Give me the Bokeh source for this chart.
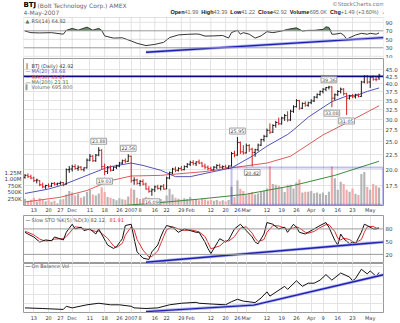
import pandas as pd
import numpy as np
from bokeh.plotting import figure
from bokeh.layouts import column
from bokeh.models import (ColumnDataSource, Range1d, LinearAxis, LinearScale, FixedTicker,
                          Label, Span, BoxAnnotation, Grid, NumeralTickFormatter)
from bokeh.transform import dodge
from bokeh.embed import file_html
from bokeh.resources import INLINE

# ---------------- data ----------------
holidays = ["2006-11-23", "2006-12-25", "2007-01-01", "2007-01-02",
            "2007-01-15", "2007-02-19", "2007-04-06"]
dates = [d for d in pd.bdate_range("2006-11-08", "2007-05-04")
         if d.strftime("%Y-%m-%d") not in holidays]
date_pos = {d.strftime("%Y-%m-%d"): i for i, d in enumerate(dates)}

opens = [18.7, 19.0, 18.8, 18.6, 18.2, 18.2, 17.6, 17.3, 17.5, 17.4, 17.8, 17.7, 17.8, 17.9,
         17.7, 19.9, 20.0, 20.4, 20.1, 20.3, 19.9, 20.2, 21.5, 22.2, 21.4, 22.4, 23.3, 20.4,
         19.6, 20.2, 19.8, 20.3, 20.5, 21.0, 21.4, 21.3, 22.2, 18.2, 18.3, 17.8, 18.1, 17.7,
         17.0, 16.7, 16.9, 17.3, 17.1, 17.4, 17.0, 18.6, 19.4, 20.0, 19.8, 20.1, 19.9, 20.4,
         20.8, 21.1, 20.9, 21.2, 21.0, 20.5, 20.3, 20.1, 19.9, 20.3, 20.6, 20.3, 20.4, 20.2,
         20.5, 22.7, 22.4, 24.8, 23.0, 22.8, 24.2, 23.5, 22.9, 23.4, 24.3, 25.4, 26.1, 27.4,
         27.0, 28.5, 29.2, 28.9, 30.3, 30.9, 29.8, 32.0, 33.2, 34.9, 32.8, 34.1, 33.6, 34.3,
         34.8, 35.9, 36.7, 37.6, 38.3, 38.8, 39.0, 35.6, 36.6, 37.6, 38.3, 36.9, 35.6, 36.2,
         36.0, 36.5, 36.1, 40.6, 42.5, 40.6, 42.2, 41.5, 41.99]
highs = [19.2, 19.3, 19.1, 18.8, 18.5, 18.3, 17.9, 17.6, 17.8, 17.9, 18.0, 17.9, 18.1, 18.0,
         20.1, 20.5, 20.7, 20.8, 20.6, 20.5, 20.3, 21.8, 22.6, 22.4, 22.6, 23.88, 23.5, 20.9,
         20.5, 20.6, 20.4, 20.7, 21.2, 21.6, 21.8, 22.56, 22.3, 18.7, 18.5, 18.3, 18.4, 17.9,
         17.4, 17.1, 17.5, 17.6, 17.5, 17.7, 18.8, 19.6, 20.2, 20.4, 20.3, 20.5, 20.6, 21.0,
         21.4, 21.5, 21.3, 21.6, 21.2, 20.9, 20.6, 20.4, 20.5, 20.8, 20.9, 20.6, 20.7, 20.6,
         23.0, 23.2, 25.95, 25.0, 24.3, 24.6, 24.5, 23.8, 23.6, 24.6, 25.6, 26.4, 27.8, 29.0,
         28.8, 29.6, 30.4, 30.6, 31.3, 32.0, 32.4, 33.6, 35.3, 35.1, 34.4, 34.7, 34.6, 35.3,
         36.2, 37.0, 37.9, 38.6, 39.0, 39.36, 39.2, 37.0, 38.0, 38.8, 38.6, 37.2, 36.6, 36.8,
         36.9, 37.0, 41.0, 42.9, 43.0, 42.6, 42.8, 42.3, 43.39]
lows = [18.5, 18.6, 18.4, 18.0, 17.8, 17.4, 17.1, 17.0, 17.2, 17.3, 17.5, 17.5, 17.6, 17.4,
        17.6, 19.4, 19.6, 19.9, 19.7, 19.8, 19.6, 20.1, 21.3, 21.2, 21.2, 22.2, 20.0, 19.03,
        19.2, 19.6, 19.7, 20.0, 20.3, 20.8, 21.0, 21.2, 17.9, 17.6, 17.6, 17.4, 17.5, 16.9,
        16.5, 16.09, 16.6, 16.9, 16.8, 16.9, 17.0, 18.4, 19.2, 19.5, 19.6, 19.7, 19.8, 20.2,
        20.5, 20.6, 20.5, 20.8, 20.3, 20.0, 19.8, 19.7, 19.8, 20.0, 20.1, 20.0, 20.1, 20.0,
        20.4, 22.0, 22.3, 22.6, 22.5, 22.7, 23.0, 20.42, 22.1, 23.1, 24.1, 25.0, 25.9, 26.6,
        26.8, 28.0, 28.6, 28.7, 29.6, 29.4, 29.6, 31.6, 33.0, 32.4, 32.6, 33.2, 33.2, 33.9,
        34.5, 35.5, 36.3, 37.0, 37.7, 38.2, 33.08, 35.0, 36.2, 37.0, 36.4, 31.05, 35.2, 35.6,
        35.5, 35.8, 36.0, 40.2, 40.0, 38.7, 41.0, 40.8, 41.22]
closes = [19.0, 18.8, 18.6, 18.2, 18.3, 17.6, 17.3, 17.5, 17.4, 17.8, 17.7, 17.8, 17.9, 17.6,
          19.9, 20.0, 20.4, 20.1, 20.3, 19.9, 20.2, 21.5, 22.2, 21.4, 22.4, 23.3, 20.4, 19.6,
          20.2, 19.8, 20.3, 20.5, 21.0, 21.4, 21.3, 22.2, 18.2, 18.3, 17.8, 18.1, 17.7, 17.0,
          16.7, 16.9, 17.3, 17.1, 17.4, 17.0, 18.6, 19.4, 20.0, 19.8, 20.1, 19.9, 20.4, 20.8,
          21.1, 20.9, 21.2, 21.0, 20.5, 20.3, 20.1, 19.9, 20.3, 20.6, 20.3, 20.4, 20.2, 20.5,
          22.7, 22.4, 24.8, 23.0, 22.8, 24.2, 23.5, 22.9, 23.4, 24.3, 25.4, 26.1, 27.4, 27.0,
          28.5, 29.2, 28.9, 30.3, 30.9, 29.8, 32.0, 33.2, 34.9, 32.8, 34.1, 33.6, 34.3, 34.8,
          35.9, 36.7, 37.6, 38.3, 38.8, 39.0, 35.6, 36.6, 37.6, 38.3, 36.9, 35.6, 36.2, 36.0,
          36.5, 36.1, 40.6, 42.5, 40.6, 42.2, 41.5, 41.43, 42.92]
volume_k = [260, 180, 220, 300, 150, 280, 240, 160, 200, 140, 180, 90, 230, 250,
            420, 560, 500, 380, 450, 300, 350, 520, 600, 420, 380, 460, 700, 520,
            330, 300, 250, 200, 280, 240, 220, 350, 650, 600, 300, 250, 280, 330,
            300, 280, 220, 200, 250, 180, 380, 640, 420, 300, 260, 230, 280, 250,
            330, 210, 240, 200, 270, 230, 190, 220, 180, 210, 160, 200, 150, 210,
            720, 330, 960, 640, 560, 420, 480, 520, 420, 460, 530, 570, 650, 1500,
            830, 800, 760, 700, 520, 800, 800, 650, 880, 1000, 500, 530, 530, 560,
            470, 500, 450, 500, 400, 530, 1500, 1050, 600, 910, 830, 600, 530, 650,
            450, 400, 1210, 1290, 710, 600, 830, 760, 695]

ma20_idx = [0, 8, 13, 21, 28, 36, 40, 46, 51, 56, 61, 70, 77, 82, 89, 91, 96, 100, 104, 109, 113, 116, 120]
ma20_val = [16.4, 17.0, 17.6, 19.0, 20.3, 21.0, 20.6, 19.8, 18.8, 18.8, 19.3, 20.2, 22.2, 24.1,
            26.5, 27.5, 30.5, 32.5, 34.6, 36.2, 36.6, 37.6, 38.68]
ma50_idx = [0, 12, 21, 29, 36, 46, 56, 61, 70, 82, 90, 101, 109, 120]
ma50_val = [15.3, 15.9, 16.8, 18.2, 18.9, 19.0, 19.4, 19.6, 20.2, 21.0, 22.2, 26.4, 29.1, 33.47]
ma200_idx = [30, 42, 60, 75, 91, 105, 120]
ma200_val = [14.8, 15.1, 15.7, 16.3, 17.5, 19.0, 21.31]

rsi_idx = [0, 2, 5, 9, 13, 14, 16, 18, 21, 23, 25, 26, 27, 30, 33, 36, 38, 41, 44, 47, 49, 52,
           55, 58, 59, 61, 64, 67, 69, 70, 72, 73, 74, 76, 78, 80, 82, 84, 87, 89, 92, 94, 96,
           98, 101, 102, 103, 104, 105, 107, 108, 109, 112, 114, 116, 117, 119, 120]
rsi_val = [69.5, 65.6, 65, 65.6, 62, 71, 75.6, 71.5, 78.6, 71.5, 75.6, 71, 58, 52.8, 53.5, 46,
           40.5, 35.2, 38, 42.8, 54, 60.3, 61.7, 62.5, 62, 57.6, 58, 59, 53, 66, 71, 62, 65.6,
           62, 52.8, 58, 68, 65.6, 69.5, 73.3, 77, 69.5, 71, 71, 73.3, 79.3, 78, 62, 62, 64.3,
           60, 50.5, 60, 64, 62, 64, 62, 64.92]

sto_idx = [0, 1, 3, 5, 7, 9, 10, 13, 14, 16, 17, 19, 20, 22, 24, 25, 28, 30, 31, 33, 34, 36, 37,
           38, 40, 42, 43, 45, 46, 47, 48, 50, 52, 54, 56, 58, 59, 61, 62, 63, 66, 68, 69, 71,
           73, 75, 77, 78, 79, 81, 82, 84, 86, 88, 89, 91, 92, 93, 95, 96, 98, 100, 102, 103,
           105, 106, 107, 108, 110, 111, 112, 114, 115, 116, 118, 119, 120]
sto_k = [72, 68, 61, 49, 54, 52, 61, 54, 72, 91, 80, 84, 76, 80, 68, 80, 42, 34, 38, 57, 88, 91,
         57, 26, 11, 8, 26, 42, 61, 77, 88, 84, 72, 80, 76, 72, 72, 49, 34, 22, 57, 49, 54, 80,
         91, 76, 61, 49, 45, 68, 95, 91, 80, 84, 72, 91, 84, 72, 68, 72, 80, 88, 95, 84, 53, 42,
         68, 57, 45, 49, 45, 72, 91, 88, 80, 80, 82.12]
sto_d = [74, 72, 66, 56, 51, 53, 56, 57, 62, 78, 85, 83, 80, 78, 74, 75, 58, 40, 36, 46, 65, 85,
         78, 55, 30, 14, 15, 28, 45, 62, 78, 85, 80, 76, 78, 75, 73, 62, 48, 33, 40, 52, 51, 62,
         82, 85, 70, 58, 50, 55, 72, 88, 87, 82, 79, 82, 85, 82, 72, 70, 74, 83, 90, 90, 74, 58,
         54, 58, 55, 50, 47, 55, 72, 85, 86, 82, 81.91]

obv_idx = [0, 6, 13, 14, 16, 21, 25, 29, 32, 36, 37, 41, 45, 49, 53, 58, 59, 64, 68, 70, 72, 74,
           78, 80, 82, 83, 88, 89, 92, 94, 96, 98, 100, 102, 104, 107, 110, 111, 112, 114, 116,
           117, 119, 120]
obv_m = [1.25, 1.08, 0.83, 1.68, 1.25, 2.08, 2.5, 2.08, 2.08, 1.68, 1.25, 1.08, 1.25, 2.08, 2.5,
         2.75, 2.5, 2.25, 2.08, 2.93, 3.58, 3.08, 2.68, 3.93, 5.58, 4.43, 7.08, 6.25, 8.58, 7.08,
         7.93, 7.93, 8.75, 10.25, 8.75, 10.68, 9.58, 8.58, 9.18, 11.68, 10.43, 11.25, 9.75, 10.83]

# user-drawn annotations
rsi_trend_idx, rsi_trend_val = [41, 121.5], [19.6, 54.0]
sto_trend_idx, sto_trend_val = [41, 121.5], [1.5, 49.0]
obv_trend_idx, obv_trend_val = [41, 77.5, 121.5], [0.25, 2.0, 10.2]
resist_level = 42.5
box_left_idx, box_right_idx, box_top_price, box_bottom_price = 70, 121.3, 20.25, 14.95

ann_idx = [25, 35, 27, 43, 72, 77, 103, 104, 109]
ann_kind = ["H", "H", "L", "L", "H", "L", "H", "L", "L"]

quote_keys = ["Open", "High", "Low", "Close", "Volume", "Chg"]
quote_vals = ["41.99", "43.39", "41.22", "42.92", "695.0K", "+1.49 (+3.60%)"]

tick_dates = ["2006-11-13", "2006-11-20", "2006-11-27", "2006-12-01", "2006-12-11", "2006-12-18",
              "2006-12-26", "2007-01-03", "2007-01-08", "2007-01-16", "2007-01-22", "2007-01-29",
              "2007-02-01", "2007-02-12", "2007-02-20", "2007-02-26", "2007-03-01", "2007-03-12",
              "2007-03-19", "2007-03-26", "2007-04-02", "2007-04-09", "2007-04-16", "2007-04-23",
              "2007-05-01"]
tick_labels = ["13", "20", "27", "Dec", "11", "18", "26", "2007", "8", "16", "22", "29", "Feb",
               "12", "20", "26", "Mar", "12", "19", "26", "Apr", "9", "16", "23", "May"]
price_ticks = [17.5, 20.0, 22.5, 25.0, 27.5, 30.0, 32.5, 35.0, 37.5, 40.0, 42.5, 45.0]
vol_ticks = [250, 500, 750, 1000, 1250]
vol_tick_labels = ["250K", "500K", "750K", "1.00M", "1.25M"]
rsi_ticks = [10, 30, 50, 70, 90]
rsi_lo, rsi_hi = 4.8, 101.3

# ---------------- styling / layout ----------------
FONT = "DejaVu Sans"
HFONT = "Liberation Sans"
GRID = "#e3e3e3"
W = 400
tick_idx = [date_pos[d] for d in tick_dates]
n = len(dates)
xr = Range1d(-0.5, n + 0.5)

up = [closes[0] >= opens[0]] + [closes[i] >= closes[i - 1] for i in range(1, n)]
src = ColumnDataSource(dict(
    x=list(range(n)), open=opens, high=highs, low=lows, close=closes, vol=volume_k,
    pcolor=["#1a1a1a" if u else "#d42020" for u in up],
    vcolor=["#b4b4b4" if u else "#f3a9a9" for u in up],
))


def make_fig(height, y_range, bottom=0, top=0, xgrid=True, **kw):
    p = figure(width=W, height=height, x_range=xr, y_range=y_range,
               toolbar_location=None, output_backend="svg",
               min_border_left=23, min_border_right=15, min_border_top=top,
               min_border_bottom=bottom, **kw)
    p.outline_line_color = "#9a9a9a"
    p.background_fill_color = "white"
    p.border_fill_color = "white"
    p.grid.visible = False
    if xgrid:
        p.add_layout(Grid(dimension=0, ticker=FixedTicker(ticks=tick_idx), grid_line_color=GRID))
    return p


def style_axis(ax, size="5.5px"):
    ax.major_label_text_font = FONT
    ax.major_label_text_font_size = size
    ax.major_label_text_color = "#3a3a3a"
    ax.major_tick_line_color = None
    ax.minor_tick_line_color = None
    ax.axis_line_color = None
    ax.major_tick_out = 0
    ax.major_tick_in = 0
    ax.major_label_standoff = 2


def txt(p, x, y, text, size="5px", color="#333333", align="left", bold=False, font=FONT, **kw):
    p.add_layout(Label(x=x, y=y, x_units="screen", y_units="screen", text=text,
                       text_font=font, text_font_size=size, text_color=color,
                       text_align=align, text_baseline="middle",
                       text_font_style="bold" if bold else "normal", **kw))


# approximate Liberation Sans advance widths (em) for laying out the mixed bold/normal header
_W_REG = {"0": .556, "1": .556, "2": .556, "3": .556, "4": .556, "5": .556, "6": .556,
          "7": .556, "8": .556, "9": .556, ".": .278, " ": .278, "(": .333, ")": .333,
          "+": .584, "%": .889, "K": .667}
_W_BOLD = {"O": .778, "p": .611, "e": .556, "n": .611, "H": .722, "i": .278, "g": .611,
           "h": .611, "L": .611, "o": .611, "w": .778, "C": .722, "l": .278, "s": .556,
           "V": .667, "u": .611, "m": .889, "c": .556}


def em_width(s, bold):
    table = _W_BOLD if bold else _W_REG
    return sum(table.get(ch, .7) for ch in s)


# ---- RSI panel; its frame also holds the page header above the panel box ----
RSI_H, HDR_H = 41, 17
rsi_top_of_frame = rsi_hi + HDR_H * (rsi_hi - rsi_lo) / RSI_H
p_rsi = make_fig(RSI_H + HDR_H, Range1d(rsi_lo, rsi_top_of_frame), xgrid=False,
                 x_axis_location=None, y_axis_location="right")
p_rsi.outline_line_color = None
p_rsi.yaxis.ticker = FixedTicker(ticks=rsi_ticks)
style_axis(p_rsi.yaxis[0])
p_rsi.segment(x0=tick_idx, y0=[rsi_lo] * len(tick_idx), x1=tick_idx, y1=[rsi_hi] * len(tick_idx),
              line_color=GRID, line_width=1)
p_rsi.segment(x0=[-0.5, -0.5], y0=[10, 90], x1=[n + 0.5, n + 0.5], y1=[10, 90],
              line_color=GRID, line_width=1)
p_rsi.add_layout(Span(location=70, dimension="width", line_color="#9a9a9a", line_width=1))
p_rsi.add_layout(Span(location=30, dimension="width", line_color="#9a9a9a", line_width=1))
p_rsi.add_layout(Span(location=50, dimension="width", line_color="#bdbdbd", line_width=1, line_dash="1 1"))
p_rsi.varea(x=rsi_idx, y1=[70] * len(rsi_val), y2=list(np.maximum(rsi_val, 70)),
            fill_color="#4d7d4d", fill_alpha=0.85)
p_rsi.line(rsi_idx, rsi_val, line_color="#333333", line_width=1)
p_rsi.line(rsi_trend_idx, rsi_trend_val, line_color="#b0b4f2", line_width=3)
p_rsi.line(rsi_trend_idx, rsi_trend_val, line_color="#2020b0", line_width=1.4)
p_rsi.add_layout(BoxAnnotation(left=-0.5, right=n + 0.5, bottom=rsi_lo, top=rsi_hi,
                               fill_alpha=0, line_color="#9a9a9a", line_width=1))
txt(p_rsi, 2, 37.5, "\u25b2", size="5px", color="#4d7d4d")
txt(p_rsi, 8, 37.5, "RSI(14) 64.92", size="5px", color="#555555")
# header (left)
txt(p_rsi, 0, 53.5, "BTJ", size="7px", color="#000000", bold=True)
txt(p_rsi, 14, 53.5, "(Bolt Technology Corp.) AMEX", size="6px", color="#666666")
txt(p_rsi, 0, 46.5, "4-May-2007", size="6px", color="#666666")
txt(p_rsi, 361, 54.5, "\u00a9StockCharts.com", size="5.5px", color="#777777", align="right")
# header (quote line): bold keys, grey values, fitted between x=147 and x=362 of the frame
pieces = []
for k, v in zip(quote_keys, quote_vals):
    pieces.append((k, True))
    pieces.append((" " + v + " ", False))
pieces.append(("\u25b2", False))
total_em = sum(em_width(s, b) for s, b in pieces)
fs = (362 - 147) / total_em
xpos = 147.0
for s, b in pieces:
    txt(p_rsi, xpos, 46.5, s, size=f"{fs:.2f}px", color="#111111" if b else "#666666",
        bold=b, font=HFONT)
    xpos += em_width(s, b) * fs

# ---- Price + volume ----
p_px = make_fig(157, Range1d(14.87, 49.15), bottom=8, y_axis_type="log", y_axis_location="right")
pax = p_px.yaxis[0]
pax.ticker = FixedTicker(ticks=price_ticks)
pax.formatter = NumeralTickFormatter(format="0.0")
style_axis(pax)
p_px.add_layout(Grid(dimension=1, ticker=FixedTicker(ticks=price_ticks), grid_line_color=GRID))
xax = p_px.xaxis[0]
xax.ticker = FixedTicker(ticks=tick_idx)
xax.major_label_overrides = {t: l for t, l in zip(tick_idx, tick_labels)}
style_axis(xax, size="5px")
xax.major_label_standoff = 1

p_px.extra_y_ranges = {"vol": Range1d(0, 5644)}
p_px.extra_y_scales = {"vol": LinearScale()}
vax = LinearAxis(y_range_name="vol", ticker=FixedTicker(ticks=vol_ticks),
                 major_label_overrides={t: l for t, l in zip(vol_ticks, vol_tick_labels)})
style_axis(vax)
p_px.add_layout(vax, "left")

p_px.vbar(x="x", top="vol", bottom=0, width=0.72, fill_color="vcolor", line_color=None,
          y_range_name="vol", source=src)
p_px.line(ma200_idx, ma200_val, line_color="#3f8a3f", line_width=1)
p_px.line(ma50_idx, ma50_val, line_color="#e05a5a", line_width=1)
p_px.line(ma20_idx, ma20_val, line_color="#5353b8", line_width=1)
p_px.segment(x0="x", y0="low", x1="x", y1="high", line_color="pcolor", line_width=1, source=src)
p_px.segment(x0=dodge("x", -0.45), y0="open", x1="x", y1="open", line_color="pcolor",
             line_width=1, source=src)
p_px.segment(x0="x", y0="close", x1=dodge("x", 0.45), y1="close", line_color="pcolor",
             line_width=1, source=src)
p_px.add_layout(Span(location=resist_level, dimension="width", line_color="#0a0a80", line_width=1.6))
p_px.add_layout(BoxAnnotation(left=box_left_idx, right=box_right_idx, bottom=box_bottom_price,
                              top=box_top_price, fill_alpha=0, line_color="#2d2dd8", line_width=2))
for i, k in zip(ann_idx, ann_kind):
    v = highs[i] if k == "H" else lows[i]
    p_px.add_layout(Label(x=i, y=v, text=f"{v:.2f}", y_offset=6 if k == "H" else -6,
                          text_align="center", text_baseline="middle", text_font=FONT,
                          text_font_size="4.8px", text_color="#444444",
                          border_line_color="#a0a0a0", background_fill_color="white",
                          padding=1))
txt(p_px, 2, 139.5, "\u2551", size="5px", color="#444444")
txt(p_px, 8, 139.5, "BTJ (Daily) 42.92", size="5px", color="#444444")
txt(p_px, 2, 135.0, "\u2014", size="5px", color="#5353b8")
txt(p_px, 8, 135.0, "MA(20) 38.68", size="5px", color="#5353b8")
txt(p_px, 2, 128.7, "\u2014", size="5px", color="#e05a5a")
txt(p_px, 8, 128.7, "MA(50) 33.47", size="5px", color="#d04040")
txt(p_px, 2, 123.5, "\u2014", size="5px", color="#3f8a3f")
txt(p_px, 8, 123.5, "MA(200) 21.31", size="5px", color="#3f7a3f")
txt(p_px, 2, 118.5, "\u258c", size="5px", color="#999999")
txt(p_px, 8, 118.5, "Volume 695,800", size="5px", color="#666666")

# ---- Slow stochastics ----
p_sto = make_fig(48, Range1d(-1.5, 111.6), x_axis_location=None, y_axis_location="right")
p_sto.yaxis.ticker = FixedTicker(ticks=[20, 50, 80])
style_axis(p_sto.yaxis[0])
p_sto.add_layout(Span(location=80, dimension="width", line_color="#9a9a9a", line_width=1))
p_sto.add_layout(Span(location=20, dimension="width", line_color="#9a9a9a", line_width=1))
p_sto.add_layout(Span(location=50, dimension="width", line_color="#bdbdbd", line_width=1, line_dash="1 1"))
p_sto.line(sto_idx, sto_d, line_color="#e03030", line_width=1)
p_sto.line(sto_idx, sto_k, line_color="#111111", line_width=1)
p_sto.line(sto_trend_idx, sto_trend_val, line_color="#b0b4f2", line_width=3)
p_sto.line(sto_trend_idx, sto_trend_val, line_color="#2020b0", line_width=1.4)
txt(p_sto, 2, 44, "\u2014", size="5px", color="#111111")
txt(p_sto, 8, 44, "Slow STO %K(5) %D(3) 82.12,", size="5px", color="#555555")
txt(p_sto, 86, 44, "81.91", size="5px", color="#e03030")

# ---- On Balance Volume ----
p_obv = make_fig(60, Range1d(0, 13.25), bottom=8, y_axis_location=None)
p_obv.add_layout(Grid(dimension=1, ticker=FixedTicker(ticks=[2.5, 5, 7.5, 10, 12.5]), grid_line_color=GRID))
oax = p_obv.xaxis[0]
oax.ticker = FixedTicker(ticks=tick_idx)
oax.major_label_overrides = {t: l for t, l in zip(tick_idx, tick_labels)}
style_axis(oax, size="5px")
oax.major_label_standoff = 2
p_obv.line(obv_idx, obv_m, line_color="#111111", line_width=1)
p_obv.line(obv_trend_idx, obv_trend_val, line_color="#b0b4f2", line_width=3)
p_obv.line(obv_trend_idx, obv_trend_val, line_color="#2020b0", line_width=1.4)
txt(p_obv, 2, 46.5, "\u2014", size="5px", color="#111111")
txt(p_obv, 8, 46.5, "On Balance Vol", size="5px", color="#555555")

layout = column(p_rsi, p_px, p_sto, p_obv, spacing=0)
open("out.html", "w").write(file_html(layout, INLINE))
